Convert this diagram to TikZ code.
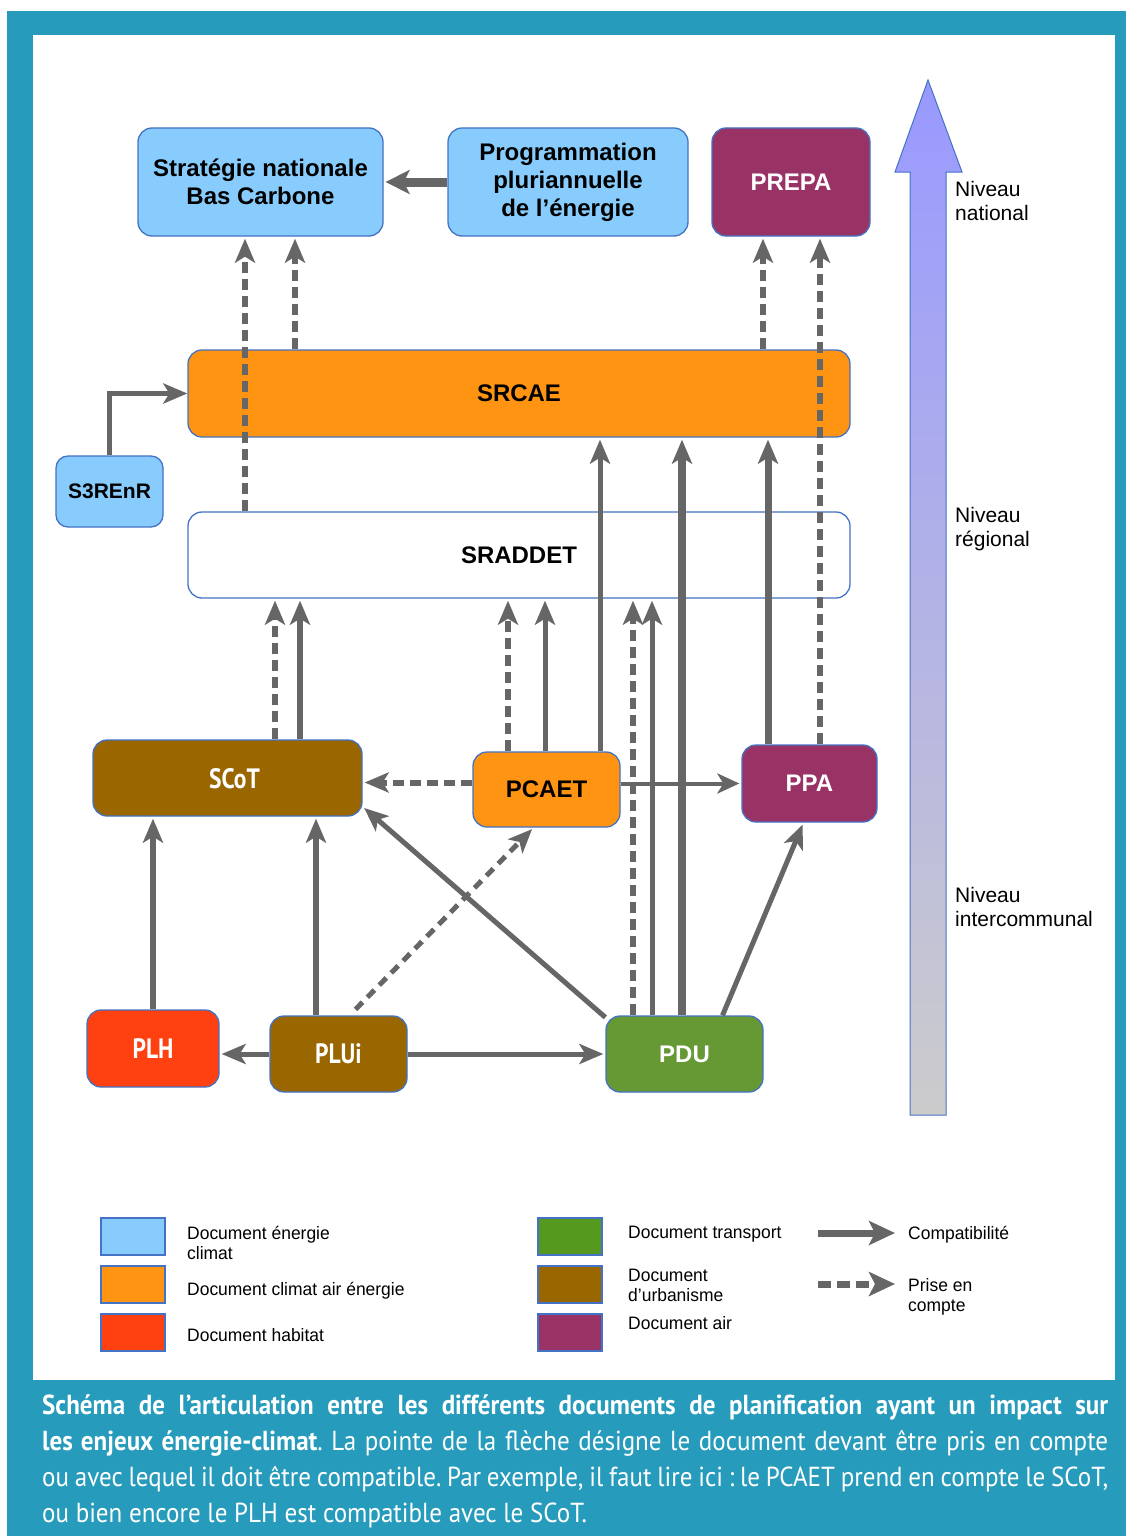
\documentclass[tikz,border=0pt]{standalone}
\usepackage{fontspec}
\setmainfont{Liberation Sans}
\newfontfamily\narrowfont[FakeStretch=0.97]{Liberation Sans}
\newfontfamily\condfont[FakeStretch=0.84]{PT Sans}
\newfontfamily\capfont[FakeStretch=0.91]{PT Sans}
\usetikzlibrary{arrows.meta,calc}
\definecolor{capblue}{RGB}{39,155,187}
\definecolor{edge}{RGB}{68,114,196}
\definecolor{skyb}{RGB}{135,204,252}
\definecolor{orng}{RGB}{255,148,18}
\definecolor{prpl}{RGB}{153,51,102}
\definecolor{brwn}{RGB}{153,102,0}
\definecolor{grn}{RGB}{102,153,51}
\definecolor{grnleg}{RGB}{85,153,30}
\definecolor{redd}{RGB}{255,64,16}
\definecolor{arrgray}{RGB}{102,102,102}
\definecolor{lvltop}{RGB}{153,153,255}
\definecolor{lvlbot}{RGB}{204,204,204}
\tikzset{
 doc/.style={draw=edge,line width=1.3pt,rounded corners=14pt,inner sep=0pt,align=center,font=\fontsize{24}{28}\selectfont\bfseries},
 cdoc/.style={doc,text=white,font=\condfont\fontsize{28}{30}\selectfont\bfseries},
 comp/.style={draw=arrgray,line width=6pt,-{Stealth[length=24pt,width=20pt,inset=6pt]},shorten >=2pt},
 pec/.style={comp,dash pattern=on 11pt off 6pt},
 lvl/.style={anchor=north west,align=left,inner sep=0pt,font=\fontsize{21}{24}\selectfont},
 sq/.style={draw=edge,line width=2pt,minimum width=64pt,minimum height=37pt,inner sep=0pt},
 leg/.style={anchor=north west,align=left,inner sep=0pt,font=\narrowfont\fontsize{18}{20}\selectfont}
}
\begin{document}
\begin{tikzpicture}[x=1pt,y=-1pt]
\useasboundingbox(0,0)rectangle(1126,1536);
\fill[capblue](7,11)rectangle(1126,1536);
\fill[white](33,35)rectangle(1115,1380);
% niveaux
\shade[top color=lvltop,bottom color=lvlbot,draw=edge,line width=1pt]
(910,1115)--(910,172)--(895,172)--(928,80)--(962,172)--(946,172)--(946,1115)--cycle;
\node[lvl](nat)at(955,181){Niveau\\national};
\node[lvl](reg)at(955,507){Niveau\\régional};
\node[lvl](inter)at(955,887){Niveau\\intercommunal};
% documents
\node[doc,fill=skyb,minimum width=245pt,minimum height=108pt](snbc)at(260.5,182){Stratégie nationale\\Bas Carbone};
\node[doc,fill=skyb,minimum width=240pt,minimum height=108pt](ppe)at(568,182){Programmation\\pluriannuelle\\de l’énergie};
\node[doc,fill=prpl,text=white,minimum width=158pt,minimum height=108pt](prepa)at(791,182){PREPA};
\node[doc,fill=orng,minimum width=662pt,minimum height=87pt](srcae)at(519,393.5){SRCAE};
\node[doc,fill=skyb,rounded corners=12pt,minimum width=107pt,minimum height=71pt,font=\fontsize{21}{24}\selectfont\bfseries](s3renr)at(109.5,491.5){S3REnR};
\node[doc,fill=white,minimum width=662pt,minimum height=86pt](sraddet)at(519,555){SRADDET};
\node[cdoc,fill=brwn,minimum width=269pt,minimum height=76pt,text depth=0pt](scot)at(227.5,778){\hspace*{14pt}SCoT};
\node[doc,fill=orng,minimum width=147pt,minimum height=75pt](pcaet)at(546.5,789.5){PCAET};
\node[doc,fill=prpl,text=white,minimum width=135pt,minimum height=77pt](ppa)at(809.5,783.5){PPA};
\node[cdoc,fill=redd,minimum width=132pt,minimum height=77pt](plh)at(153,1048.5){PLH};
\node[cdoc,fill=brwn,minimum width=137pt,minimum height=76pt](plui)at(338.5,1054){PLUi};
\node[doc,fill=grn,text=white,minimum width=157pt,minimum height=76pt](pdu)at(684.5,1054){PDU};
% liens nationaux
\draw[comp,line width=9pt,-{Stealth[length=24pt,width=24pt,inset=6pt]}](ppe.west)--(snbc.east);
\draw[comp,line width=5pt,shorten >=0pt](s3renr.north)|-(srcae.west);
\draw[pec](sraddet.north-|245,0)--(snbc.south-|245,0);
\draw[pec](srcae.north-|295,0)--(snbc.south-|295,0);
\draw[pec](srcae.north-|763,0)--(prepa.south-|763,0);
\draw[pec](ppa.north-|820,0)--(prepa.south-|820,0);
% vers SRADDET et SRCAE
\draw[pec](scot.north-|275,0)--(sraddet.south-|275,0);
\draw[comp](scot.north-|300,0)--(sraddet.south-|300,0);
\draw[pec](pcaet.north-|508,0)--(sraddet.south-|508,0);
\draw[comp,line width=5pt](pcaet.north-|545,0)--(sraddet.south-|545,0);
\draw[comp,line width=5pt](pcaet.north-|600,0)--(srcae.south-|600,0);
\draw[pec](pdu.north-|633,0)--(sraddet.south-|633,0);
\draw[comp,line width=5pt](pdu.north-|652,0)--(sraddet.south-|652,0);
\draw[comp,line width=7.5pt](pdu.north-|682,0)--(srcae.south-|682,0);
\draw[comp,line width=7pt](ppa.north-|768,0)--(srcae.south-|768,0);
% niveau intercommunal
\draw[pec]([yshift=7pt]pcaet.west)--([yshift=7pt]pcaet.west-|scot.east);
\draw[comp,line width=4pt,-{Stealth[length=22pt,width=20pt,inset=6pt]}](pcaet.east|-ppa.west)--(ppa.west);
\draw[comp,line width=5pt]([yshift=-2pt]pdu.north west)--([yshift=10pt]scot.south east);
\draw[comp,line width=5pt]([xshift=38pt]pdu.north)--([xshift=-6pt]ppa.south);
\draw[comp](plh.north)--(plh.north|-scot.south);
\draw[comp](plui.north-|316,0)--(scot.south-|316,0);
\draw[comp,line width=5pt](plui.west)--(plui.west-|plh.east);
\draw[comp,line width=5pt](plui.east)--(plui.east-|pdu.west);
\draw[pec,line width=5pt,dash pattern=on 10pt off 7pt]([xshift=17pt,yshift=6pt]plui.north)--([xshift=-13pt]pcaet.south);
% legende
\node[sq,fill=skyb](l1)at(133,1236.5){};
\node[sq,fill=orng](l2)at(133,1284){};
\node[sq,fill=redd](l3)at(133,1332.5){};
\node[sq,fill=grnleg](l4)at(569.5,1236.5){};
\node[sq,fill=brwn](l5)at(569.5,1284){};
\node[sq,fill=prpl](l6)at(569.5,1332.5){};
\node[leg](t1)at(187,1226){Document énergie\\climat};
\node[leg](t2)at(187,1282){Document climat air énergie};
\node[leg](t3)at(187,1328){Document habitat};
\node[leg](t4)at(628,1226){Document transport};
\node[leg](t5)at(628,1269){Document\\d’urbanisme};
\node[leg](t6)at(628,1316){Document air};
\coordinate(ca)at(818,1233);
\coordinate(cb)at(895,1233);
\coordinate(pa)at(818,1284);
\coordinate(pb)at(895,1284);
\draw[comp,line width=7pt,shorten >=0pt,-{Stealth[length=26pt,width=24pt,inset=6pt]}](ca)--(cb);
\draw[pec,line width=7pt,shorten >=0pt,dash pattern=on 13pt off 6pt,-{Stealth[length=26pt,width=24pt,inset=6pt]}](pa)--(pb);
\node[leg](t7)at(908,1226){Compatibilité};
\node[leg](t8)at(908,1278){Prise en\\compte};
% legende du schema
\node[anchor=north west,inner sep=0pt,align=left,text=white,font=\capfont\frenchspacing\fontsize{27.5}{36}\selectfont](cap)at(42,1394){%
\makebox[1066pt][s]{\bfseries Schéma de l’articulation entre les différents documents de planification ayant un impact sur}\\
\makebox[1066pt][s]{\bfseries les enjeux énergie-climat\mdseries. La pointe de la flèche désigne le document devant être pris en compte}\\
\makebox[1066pt][s]{ou avec lequel il doit être compatible. Par exemple, il faut lire ici : le PCAET prend en compte le SCoT,}\\
ou bien encore le PLH est compatible avec le SCoT.};
\end{tikzpicture}
\end{document}
